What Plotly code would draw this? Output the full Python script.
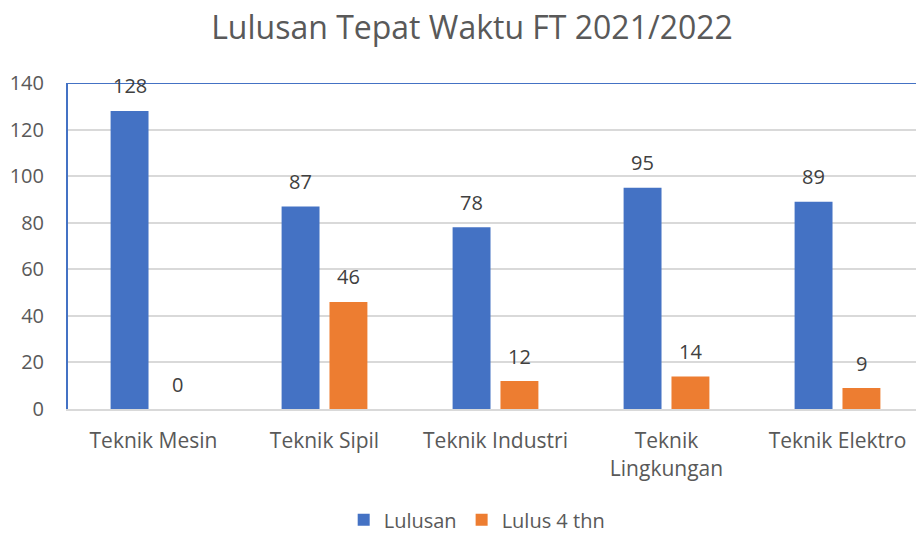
import plotly.graph_objects as go

categories = ["Teknik Mesin", "Teknik Sipil", "Teknik Industri", "Teknik<br>Lingkungan", "Teknik Elektro"]
lulusan = [128, 87, 78, 95, 89]
lulus4 = [0, 46, 12, 14, 9]
y_ticks = [0, 20, 40, 60, 80, 100, 120, 140]

BLUE = "#4472C4"
ORANGE = "#ED7D31"
FONT = "Open Sans"

fig = go.Figure()
fig.add_trace(go.Bar(x=categories, y=lulusan, name="Lulusan", marker_color=BLUE,
                     marker_line_width=0))
fig.add_trace(go.Bar(x=categories, y=lulus4, name="Lulus 4 thn", marker_color=ORANGE,
                     marker_line_width=0))

for vals, shift in ((lulusan, -24), (lulus4, 24)):
    for c, v in zip(categories, vals):
        fig.add_annotation(x=c, y=v, xref="x", yref="y", text=str(v), showarrow=False,
                           xshift=shift, yshift=25, yanchor="middle",
                           font=dict(family=FONT, size=20, color="#404040"))

fig.add_shape(type="line", xref="paper", yref="y", x0=0, x1=1, y0=140, y1=140,
              line=dict(color=BLUE, width=2))

fig.update_layout(
    width=923, height=533,
    paper_bgcolor="white", plot_bgcolor="white",
    margin=dict(l=68, r=0, t=83, b=124, autoexpand=False),
    title=dict(text="Lulusan Tepat Waktu FT 2021/2022", x=0.5114, xanchor="center",
               y=0.969, yanchor="top",
               font=dict(family=FONT, size=32, color="#595959")),
    barmode="group", bargap=0.44, bargroupgap=0.208,
    legend=dict(orientation="h", x=0.478, xanchor="center", y=-0.34, yanchor="middle",
                font=dict(family=FONT, size=20, color="#595959"),
                itemwidth=30, traceorder="normal"),
    font=dict(family=FONT, color="#595959"),
)
fig.update_xaxes(showline=True, linecolor="#D9D9D9", linewidth=2, ticks="",
                 ticklabelstandoff=12,
                 tickfont=dict(family=FONT, size=21, color="#595959"))
fig.update_yaxes(range=[0, 140], tickvals=y_ticks, showgrid=True, gridcolor="#D9D9D9",
                 gridwidth=1.5, showline=True, linecolor=BLUE, linewidth=2,
                 zeroline=False, ticks="", ticklabelstandoff=18,
                 tickfont=dict(family=FONT, size=20, color="#595959"))

fig.write_html("out.html", config={"displayModeBar": False},
               post_script="document.body.style.margin='0';document.body.style.overflow='hidden';")
